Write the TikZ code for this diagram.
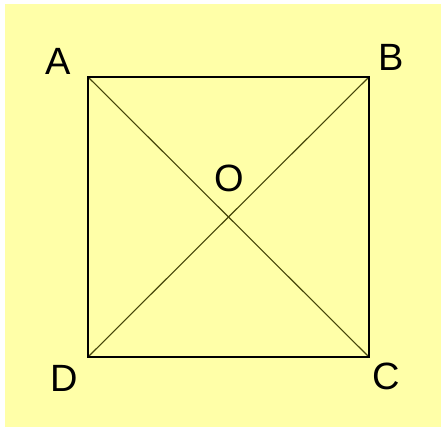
\documentclass[tikz,border=0pt]{standalone}
\usepackage{fontspec}
\setmainfont{Liberation Sans}
\usepackage{xcolor}
\usetikzlibrary{calc, positioning}
\definecolor{nenvang}{RGB}{255,255,168}
\definecolor{reu}{RGB}{70,70,10}

\begin{document}
\begin{tikzpicture}[x=1pt, y=1pt,
    nhan/.style={font=\fontsize{38}{38}\selectfont, inner sep=0pt},
    canh/.style={line width=1.5pt},
    cheo/.style={line width=1.1pt, reu}]
    % Khung nền
    \fill[white] (0,0) rectangle (441,427);
    \useasboundingbox (0,0) rectangle (441,427);
    \fill[nenvang] (5,0) rectangle (441,423);

    % Các đỉnh hình vuông ABCD
    \coordinate (A) at (88,350);
    \coordinate (B) at (369,350);
    \coordinate (C) at (369,70);
    \coordinate (D) at (88,70);
    \coordinate (O) at ($(A)!0.5!(C)$);

    % Hai đường chéo và các cạnh
    \draw[cheo] (A) -- (C);
    \draw[cheo] (B) -- (D);
    \draw[canh] (A) -- (B) -- (C) -- (D) -- cycle;

    % Tên các điểm
    \node[nhan] (nA) at (58,366) {A};
    \node[nhan] (nB) at (391,370) {B};
    \node[nhan] (nC) at (386,51) {C};
    \node[nhan] (nD) at (64,49) {D};
    \node[nhan] (nO) at (229,249) {O};
\end{tikzpicture}
\end{document}
